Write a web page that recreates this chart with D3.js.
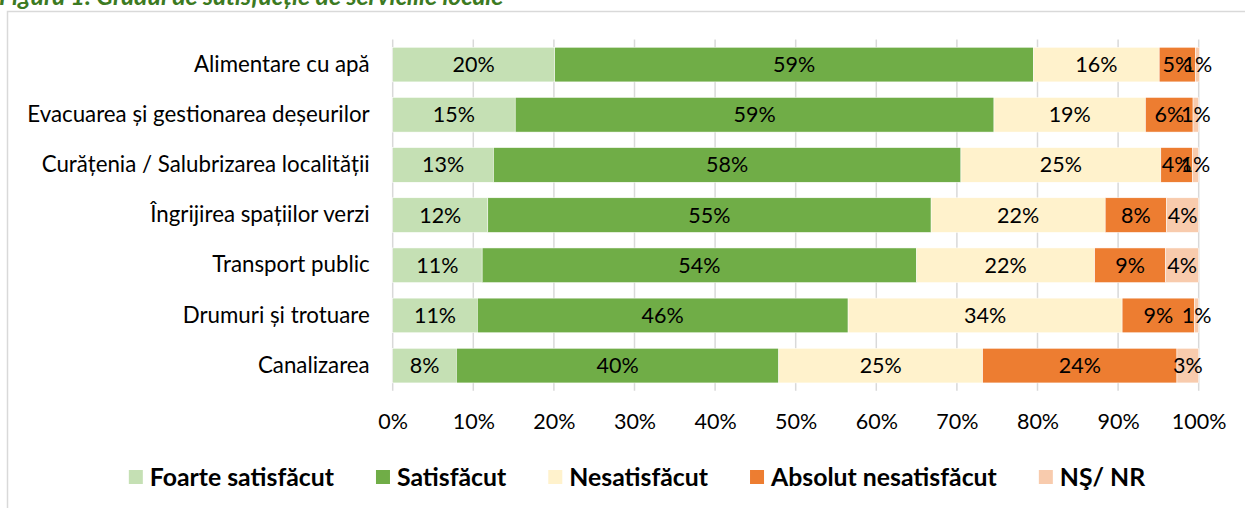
<!DOCTYPE html>
<html>
<head>
<meta charset="utf-8">
<script src="https://cdn.jsdelivr.net/npm/d3@7"></script>
<style>
  body { margin: 0; background: #fff; }
  svg { display: block; font-family: Lato, "Open Sans", sans-serif; }
</style>
</head>
<body>
<div id="chart"></div>
<script>
const categories = ["Alimentare cu apă", "Evacuarea și gestionarea deșeurilor", "Curățenia / Salubrizarea localității",
                    "Îngrijirea spațiilor verzi", "Transport public", "Drumuri și trotuare", "Canalizarea"];
const seriesNames = ["Foarte satisfăcut", "Satisfăcut", "Nesatisfăcut", "Absolut nesatisfăcut", "NŞ/ NR"];
const foarteSatisfacut = [20.1, 15.2, 12.5, 11.8, 11.1, 10.5, 7.9];
const satisfacut = [59.4, 59.4, 58.0, 55.0, 53.9, 46.0, 40.0];
const nesatisfacut = [15.6, 18.8, 24.8, 21.6, 22.1, 34.0, 25.3];
const absolutNesatisfacut = [4.5, 5.9, 3.9, 7.6, 8.8, 9.0, 24.1];
const nsNr = [0.5, 0.7, 0.8, 4.0, 4.1, 0.5, 2.7];
const xTicks = [0, 10, 20, 30, 40, 50, 60, 70, 80, 90, 100];
const title = "Figura 1. Gradul de satisfacție de serviciile locale";

var colors = ["#C5E0B4", "#70AD47", "#FFF2CC", "#ED7D31", "#F8CBAD"];
var seriesValues = [foarteSatisfacut, satisfacut, nesatisfacut, absolutNesatisfacut, nsNr];

// rows for d3.stack
var rows = categories.map((c, i) => {
    var r = {cat: c};
    seriesNames.forEach((s, k) => { r[s] = seriesValues[k][i]; });
    return r;
});
var stacked = d3.stack().keys(seriesNames)(rows);

var width = 1245, height = 508;
var plot = {left: 392.7, right: 1198.7, top: 39.5, bottom: 390.7};

var svg = d3.select("#chart").append("svg")
    .attr("width", width)
    .attr("height", height);

// chart frame (runs off the page on the right and bottom)
svg.append("rect")
    .attr("x", 7.5).attr("y", 11.5)
    .attr("width", 1300).attr("height", 600)
    .style("fill", "none")
    .style("stroke", "#D9D9D9")
    .style("stroke-width", 1.5);

// title, cut at the top like in the document
svg.append("text")
    .attr("x", -1)
    .attr("y", 4.5)
    .style("font-size", "24.8px")
    .style("font-weight", "bold")
    .style("font-style", "italic")
    .style("fill", "#3C7A22")
    .text(title);

var xScale = d3.scaleLinear().domain([0, 100]).range([plot.left, plot.right]);
var yScale = d3.scaleBand().domain(categories).range([plot.top, plot.bottom])
    .paddingInner(0.31).paddingOuter(0.155);

// grid lines
svg.append("g")
    .selectAll("line")
    .data(xTicks)
    .enter().append("line")
    .attr("x1", d => xScale(d)).attr("x2", d => xScale(d))
    .attr("y1", plot.top).attr("y2", plot.bottom)
    .style("stroke", "#D9D9D9")
    .style("stroke-width", 1.5);

// x axis labels
var xAxis = d3.axisBottom(xScale).tickValues(xTicks).tickSize(0).tickPadding(23)
    .tickFormat(d => d + "%");
var gx = svg.append("g")
    .attr("transform", `translate(0,${plot.bottom})`)
    .call(xAxis);
gx.select(".domain").remove();
gx.selectAll("text")
    .style("font-family", "Lato, sans-serif")
    .style("font-size", "21.5px")
    .style("fill", "#000");

// category labels
var yAxis = d3.axisLeft(yScale).tickSize(0).tickPadding(23);
var gy = svg.append("g")
    .attr("transform", `translate(${plot.left},0)`)
    .call(yAxis);
gy.select(".domain").remove();
gy.selectAll("text")
    .style("font-family", "Lato, sans-serif")
    .style("font-size", "22.3px")
    .style("fill", "#000");

// bars
var layers = svg.selectAll(".layer")
    .data(stacked)
    .enter().append("g")
    .attr("class", "layer")
    .style("fill", (d, i) => colors[i]);

layers.selectAll("rect")
    .data(d => d)
    .enter().append("rect")
    .attr("x", d => xScale(d[0]))
    .attr("y", d => yScale(d.data.cat))
    .attr("width", d => xScale(d[1]) - xScale(d[0]))
    .attr("height", yScale.bandwidth())
    .style("stroke", "#fff")
    .style("stroke-width", 0.5);

// value labels
layers.selectAll("text")
    .data(d => d)
    .enter().append("text")
    .attr("x", d => (xScale(d[0]) + xScale(d[1])) / 2)
    .attr("y", d => yScale(d.data.cat) + yScale.bandwidth() / 2)
    .attr("dy", "0.35em")
    .attr("text-anchor", "middle")
    .style("font-size", "21.5px")
    .style("fill", "#000")
    .text(d => Math.round(d[1] - d[0]) + "%");

// legend
var legendY = 477, sq = 14, gapText = 7, gapItem = 42;
var legend = svg.append("g");
var items = legend.selectAll("g")
    .data(seriesNames)
    .enter().append("g");
items.append("rect")
    .attr("width", sq).attr("height", sq)
    .attr("y", legendY - sq / 2)
    .style("fill", (d, i) => colors[i]);
items.append("text")
    .attr("x", sq + gapText)
    .attr("y", legendY)
    .attr("dy", "0.35em")
    .style("font-size", "24.8px")
    .style("font-weight", "bold")
    .text(d => d);

var xPos = 0;
items.each(function() {
    var w = sq + gapText + d3.select(this).select("text").node().getComputedTextLength();
    d3.select(this).attr("data-x", xPos);
    xPos += w + gapItem;
});
var totalW = xPos - gapItem;
var startX = 637 - totalW / 2;
items.attr("transform", function() {
    return `translate(${startX + (+d3.select(this).attr("data-x"))},0)`;
});
</script>
</body>
</html>
